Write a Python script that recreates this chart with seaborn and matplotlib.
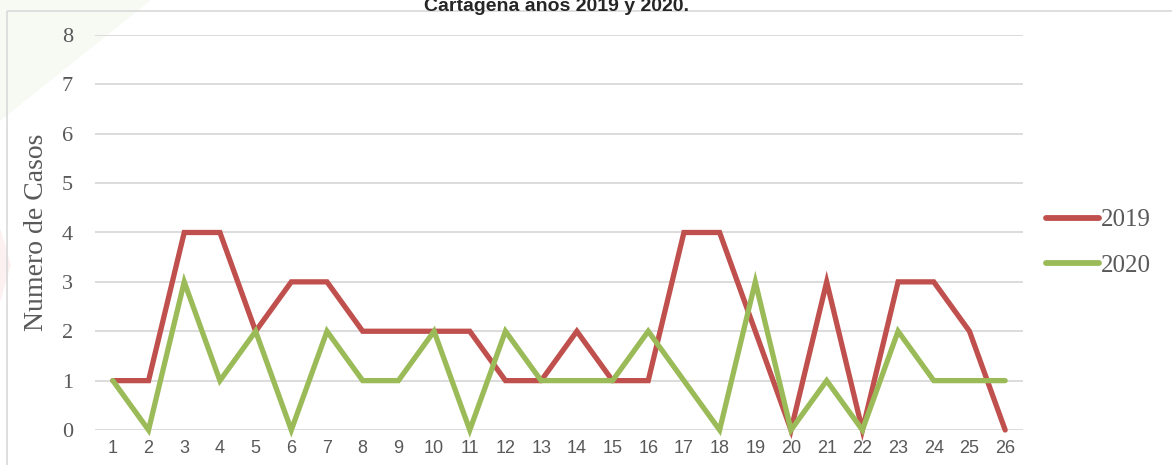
import numpy as np
import pandas as pd
import seaborn as sns
import matplotlib.pyplot as plt
from matplotlib.patches import Rectangle, Polygon

semanas = list(range(1, 27))
casos_2019 = [1, 1, 4, 4, 2, 3, 3, 2, 2, 2, 2, 1, 1, 2, 1, 1, 4, 4, 2, 0, 3, 0, 3, 3, 2, 0]
casos_2020 = [1, 0, 3, 1, 2, 0, 2, 1, 1, 2, 0, 2, 1, 1, 1, 2, 1, 0, 3, 0, 1, 0, 2, 1, 1, 1]
y_ticks = list(range(0, 9))

df = pd.DataFrame({
    'semana': semanas * 2,
    'casos': casos_2019 + casos_2020,
    'anio': ['2019'] * len(semanas) + ['2020'] * len(semanas),
})

sns.set_theme(style='white')
plt.rcParams['font.family'] = ['DejaVu Sans']
serif = ['Liberation Serif', 'DejaVu Serif']

fig = plt.figure(figsize=(11.72, 4.65), dpi=100)

# background layer: faint watermark shapes + chart frame
bg = fig.add_axes([0, 0, 1, 1], zorder=-5)
bg.set_xlim(0, 1172)
bg.set_ylim(465, 0)
bg.axis('off')
bg.add_patch(Polygon([[0, 0], [150, 0], [0, 120]], closed=True, color='#f6faf3'))
bg.add_patch(Polygon([[0, 230], [10, 265], [0, 300]], closed=True, color='#fcf0f0'))
bg.add_patch(Rectangle((7, 11), 1300, 600, fill=False, edgecolor='#d9d9d9', lw=1.2))

ax = fig.add_axes([95 / 1172, 1 - 430 / 465, (1023 - 95) / 1172, (430 - 35) / 465])
ax.patch.set_alpha(0)

sns.lineplot(data=df, x='semana', y='casos', hue='anio', palette=['#c0504d', '#9bbb59'],
             lw=3.8, ax=ax, clip_on=False, legend=True)
for ln in ax.lines:
    ln.set_solid_capstyle('round')
    ln.set_solid_joinstyle('miter')

ax.set_xlim(0.5, 26.5)
ax.set_ylim(0, 8)
ax.set_xticks(semanas)
ax.set_xticklabels([str(s) for s in semanas], fontsize=13, color='#595959',
                   family=['Liberation Sans Narrow', 'Liberation Sans'])
ax.set_yticks(y_ticks)
ax.set_yticklabels([str(t) for t in y_ticks], fontsize=16, color='#595959', family=serif)
ax.tick_params(axis='y', pad=16, length=0)
ax.tick_params(axis='x', pad=7, length=0)
ax.grid(axis='y', color='#d9d9d9', lw=1.3)
ax.set_axisbelow(True)
for s in ax.spines.values():
    s.set_visible(False)

ax.set_xlabel('')
ax.set_ylabel('Numero de Casos', fontsize=20, color='#595959', family=serif, labelpad=9)

leg = ax.legend(loc='upper left', bbox_to_anchor=(1046 / 1172, 1 - 209 / 465),
                bbox_transform=fig.transFigure, frameon=False, handlelength=2.1,
                handletextpad=0.1, labelspacing=0.9, borderpad=0, borderaxespad=0,
                prop={'family': serif, 'size': 18})
for t in leg.get_texts():
    t.set_color('#595959')
for h in leg.get_lines():
    h.set_linewidth(4.2)
    h.set_solid_capstyle('round')

fig.text(557 / 1172, 1 - 11 / 465, 'Cartagena años 2019 y 2020.', ha='center', va='baseline',
         fontsize=14, fontweight='bold', family=['Liberation Sans', 'DejaVu Sans'])

fig.savefig('out.png', dpi=100)
